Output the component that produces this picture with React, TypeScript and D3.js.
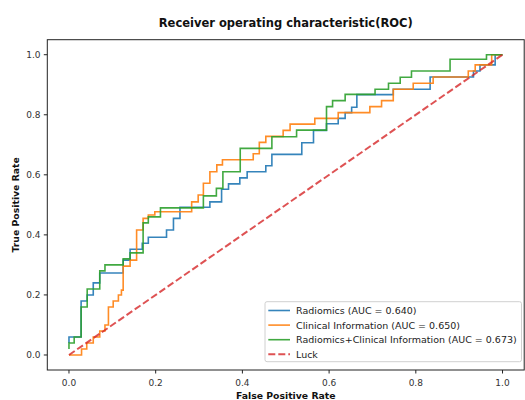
import React from "react";
import * as d3 from "d3";

const W = 525;
const H = 400;

const xTicks = [0, 0.2, 0.4, 0.6, 0.8, 1.0];
const yTicks = [0, 0.2, 0.4, 0.6, 0.8, 1.0];

const radiomics: [number, number][] = [[0,0.04],[0,0.06],[0.028,0.06],[0.028,0.18],[0.042,0.18],[0.042,0.2],[0.056,0.2],[0.056,0.24],[0.071,0.24],[0.071,0.273],[0.125,0.273],[0.125,0.316],[0.141,0.316],[0.141,0.352],[0.169,0.352],[0.169,0.372],[0.183,0.372],[0.183,0.392],[0.225,0.392],[0.225,0.416],[0.241,0.416],[0.241,0.455],[0.256,0.455],[0.256,0.492],[0.325,0.492],[0.325,0.51],[0.352,0.51],[0.352,0.552],[0.368,0.552],[0.368,0.57],[0.394,0.57],[0.394,0.59],[0.411,0.59],[0.411,0.61],[0.454,0.61],[0.454,0.63],[0.468,0.63],[0.468,0.668],[0.537,0.668],[0.537,0.707],[0.564,0.707],[0.564,0.748],[0.594,0.748],[0.594,0.77],[0.621,0.77],[0.621,0.788],[0.637,0.788],[0.637,0.807],[0.652,0.807],[0.652,0.825],[0.664,0.825],[0.664,0.867],[0.748,0.867],[0.748,0.885],[0.833,0.885],[0.833,0.926],[0.933,0.926],[0.933,0.946],[0.948,0.946],[0.948,0.966],[0.983,0.966],[0.983,1],[1,1]];

const clinical: [number, number][] = [[0,0],[0.029,0],[0.029,0.02],[0.041,0.02],[0.041,0.04],[0.056,0.04],[0.056,0.06],[0.071,0.06],[0.071,0.08],[0.083,0.08],[0.083,0.1],[0.091,0.1],[0.091,0.16],[0.102,0.16],[0.102,0.18],[0.114,0.18],[0.114,0.2],[0.121,0.2],[0.121,0.216],[0.125,0.216],[0.125,0.296],[0.141,0.296],[0.141,0.316],[0.156,0.316],[0.156,0.416],[0.171,0.416],[0.171,0.455],[0.183,0.455],[0.183,0.466],[0.198,0.466],[0.198,0.477],[0.283,0.477],[0.283,0.51],[0.298,0.51],[0.298,0.533],[0.31,0.533],[0.31,0.572],[0.325,0.572],[0.325,0.61],[0.341,0.61],[0.341,0.633],[0.354,0.633],[0.354,0.65],[0.425,0.65],[0.425,0.67],[0.439,0.67],[0.439,0.708],[0.454,0.708],[0.454,0.728],[0.494,0.728],[0.494,0.748],[0.51,0.748],[0.51,0.769],[0.567,0.769],[0.567,0.788],[0.621,0.788],[0.621,0.807],[0.694,0.807],[0.694,0.827],[0.721,0.827],[0.721,0.847],[0.748,0.847],[0.748,0.885],[0.794,0.885],[0.794,0.905],[0.84,0.905],[0.84,0.926],[0.921,0.926],[0.921,0.946],[0.937,0.946],[0.937,0.966],[0.975,0.966],[0.975,1],[1,1]];

const combined: [number, number][] = [[0,0.02],[0,0.04],[0.012,0.04],[0.012,0.06],[0.028,0.06],[0.028,0.16],[0.042,0.16],[0.042,0.22],[0.071,0.22],[0.071,0.28],[0.083,0.28],[0.083,0.3],[0.125,0.3],[0.125,0.32],[0.141,0.32],[0.141,0.34],[0.171,0.34],[0.171,0.44],[0.183,0.44],[0.183,0.46],[0.211,0.46],[0.211,0.49],[0.31,0.49],[0.31,0.53],[0.34,0.53],[0.34,0.555],[0.355,0.555],[0.355,0.61],[0.395,0.61],[0.395,0.688],[0.468,0.688],[0.468,0.727],[0.525,0.727],[0.525,0.749],[0.594,0.749],[0.594,0.827],[0.608,0.827],[0.608,0.847],[0.637,0.847],[0.637,0.868],[0.706,0.868],[0.706,0.885],[0.737,0.885],[0.737,0.905],[0.764,0.905],[0.764,0.925],[0.79,0.925],[0.79,0.946],[0.879,0.946],[0.879,0.985],[0.963,0.985],[0.963,1],[1,1]];

const luck: [number, number][] = [[0, 0], [1, 1]];

const seriesNames = [
  "Radiomics (AUC = 0.640)",
  "Clinical Information (AUC = 0.650)",
  "Radiomics+Clinical Information (AUC = 0.673)",
  "Luck",
];
const seriesColors = ["#1f77b4", "#ff7f0e", "#2ca02c", "#d62728"];

export default function App() {
  const left = 47.3, right = 524.2, top = 39.7, bottom = 370;
  const x = d3.scaleLinear().domain([-0.05, 1.05]).range([left, right]);
  const y = d3.scaleLinear().domain([-0.05, 1.05]).range([bottom, top]);
  const line = d3.line<[number, number]>().x(d => x(d[0])).y(d => y(d[1]));
  const font = "'DejaVu Sans', sans-serif";
  const series = [radiomics, clinical, combined];
  const fmt = d3.format(".1f");
  const legX = 265, legY = 301.7, legW = 256.5, legH = 60;
  const rowY = (i: number) => 310.5 + i * 14.6;

  return (
    <svg width={W} height={H} style={{ position: "absolute", left: 0, top: 0, background: "#fff" }} fontFamily={font}>
      <rect x={0} y={0} width={W} height={H} fill="#fff" />
      <text x={(left + right) / 2} y={27} textAnchor="middle" fontSize={11.5} fontWeight="bold" fill="#111">
        Receiver operating characteristic(ROC)
      </text>
      <g>
        {series.map((s, i) => (
          <path key={i} d={line(s) || ""} fill="none" stroke={seriesColors[i]} strokeWidth={1.6} strokeOpacity={0.9} strokeLinejoin="miter" />
        ))}
        <path d={line(luck) || ""} fill="none" stroke={seriesColors[3]} strokeWidth={2} strokeOpacity={0.8} strokeDasharray="7,3" />
      </g>
      <rect x={left} y={top} width={right - left} height={bottom - top} fill="none" stroke="#222" strokeWidth={1} />
      {xTicks.map(t => (
        <g key={"x" + t}>
          <line x1={x(t)} x2={x(t)} y1={bottom} y2={bottom + 3.5} stroke="#222" />
          <text x={x(t)} y={386} textAnchor="middle" fontSize={9} fill="#333">{fmt(t)}</text>
        </g>
      ))}
      {yTicks.map(t => (
        <g key={"y" + t}>
          <line x1={left - 3.5} x2={left} y1={y(t)} y2={y(t)} stroke="#222" />
          <text x={40.5} y={y(t) + 3.3} textAnchor="end" fontSize={9} fill="#333">{fmt(t)}</text>
        </g>
      ))}
      <text x={(left + right) / 2} y={398.5} textAnchor="middle" fontSize={9.3} fontWeight="bold" fill="#111">
        False Positive Rate
      </text>
      <text transform={`translate(18.5,${(top + bottom) / 2}) rotate(-90)`} textAnchor="middle" fontSize={9.3} fontWeight="bold" fill="#111">
        True Positive Rate
      </text>
      <g>
        <rect x={legX} y={legY} width={legW} height={legH} rx={2} fill="#fff" fillOpacity={0.8} stroke="#d0d0d0" strokeWidth={1} />
        {seriesNames.map((name, i) => (
          <g key={name}>
            <line x1={268.3} x2={290} y1={rowY(i)} y2={rowY(i)} stroke={seriesColors[i]} strokeWidth={i === 3 ? 2 : 1.6} strokeOpacity={i === 3 ? 0.8 : 0.9} strokeDasharray={i === 3 ? "7,3" : undefined} />
            <text x={296} y={rowY(i) + 3.4} fontSize={9.5} fill="#222">{name}</text>
          </g>
        ))}
      </g>
    </svg>
  );
}
